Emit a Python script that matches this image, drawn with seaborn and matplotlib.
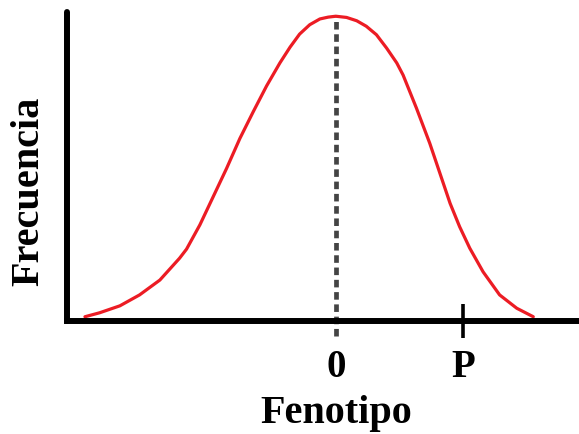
import seaborn as sns
import numpy as np
import pandas as pd
import matplotlib.pyplot as plt

sns.set_theme(style="white")
plt.rcParams.update({
    "font.family": ["Liberation Serif", "DejaVu Serif"],
    "font.weight": "bold",
    "text.color": "black",
    "xtick.color": "black",
    "axes.labelcolor": "black",
})

# curve (x: phenotype, 0 at the mean, P at 2; y: relative frequency)
fenotipo = [-3.95, -3.72, -3.40, -3.09, -2.77, -2.46, -2.35, -2.14, -1.93, -1.72,
            -1.51, -1.30, -1.09, -0.88, -0.72, -0.57, -0.41, -0.25, -0.12, 0.00,
            0.17, 0.33, 0.48, 0.64, 0.80, 0.96, 1.06, 1.27, 1.48, 1.64,
            1.80, 1.95, 2.11, 2.32, 2.58, 2.85, 3.11]
frecuencia = [0.014, 0.027, 0.050, 0.086, 0.135, 0.207, 0.237, 0.317, 0.410, 0.503,
              0.602, 0.690, 0.775, 0.851, 0.903, 0.946, 0.977, 0.996, 1.002, 1.005,
              1.001, 0.990, 0.972, 0.944, 0.900, 0.851, 0.811, 0.702, 0.586, 0.487,
              0.388, 0.311, 0.240, 0.162, 0.086, 0.042, 0.014]

tick_pos = [0, 2]
tick_labels = ["0", "P"]

df = pd.DataFrame({"fenotipo": fenotipo, "frecuencia": frecuencia})

fig = plt.figure(figsize=(5.79, 4.34), dpi=100)
ax = fig.add_axes([0.1149, 0.2604, 0.8851, 0.712])

sns.lineplot(data=df, x="fenotipo", y="frecuencia", sort=False, color="#ec1c24",
             linewidth=2.3, ax=ax, solid_joinstyle="round")

i_max = int(np.argmax(frecuencia))
x_peak, y_peak = fenotipo[i_max], frecuencia[i_max]
ax.vlines(x_peak, -0.05, y_peak, color="#444444", linewidth=3.4,
          linestyles=(0, (1.6, 1.0)), clip_on=False, zorder=1)

ax.set_xlim(-4.24, 3.83)
ax.set_ylim(0, 1.019)

for side in ["top", "right"]:
    ax.spines[side].set_visible(False)
for side in ["left", "bottom"]:
    ax.spines[side].set_linewidth(4.3)
    ax.spines[side].set_color("black")
ax.spines["left"].set_capstyle("round")
ax.spines["bottom"].set_capstyle("projecting")

ax.set_yticks([])
ax.set_xticks(tick_pos)
ax.set_xticklabels(tick_labels, fontsize=28, fontweight="bold", color="black")
ax.tick_params(axis="x", bottom=True, direction="inout", length=24, width=2.6,
               color="black", pad=8)
ax.xaxis.get_major_ticks()[0].tick1line.set_visible(False)

xfrac = (x_peak - ax.get_xlim()[0]) / (ax.get_xlim()[1] - ax.get_xlim()[0])
ax.set_xlabel("Fenotipo", fontsize=29, fontweight="bold", x=xfrac, labelpad=7,
              color="black")
ax.set_ylabel("Frecuencia", fontsize=29, fontweight="bold", y=0.42, labelpad=14,
              color="black")

fig.savefig("out.png", dpi=100)
